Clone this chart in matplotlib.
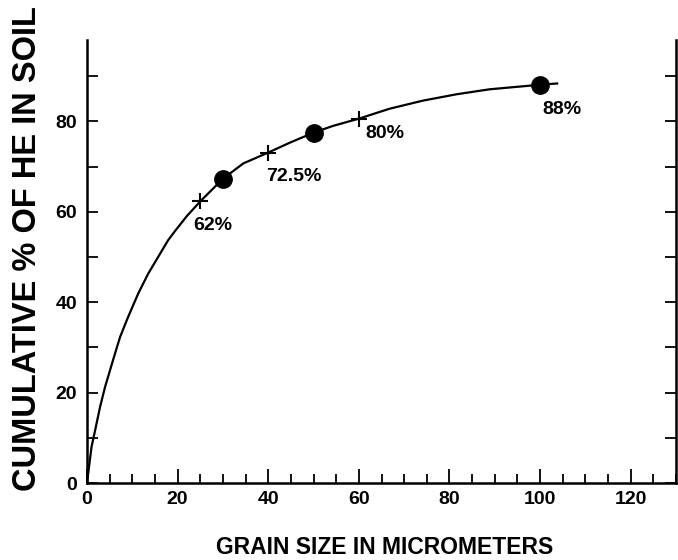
import matplotlib
matplotlib.use("Agg")
import matplotlib.pyplot as plt
from matplotlib.ticker import MultipleLocator

# ---- data ----
curve_x = [0, 1.0, 1.8, 2.9, 4.0, 5.1, 6.2, 7.3, 9.1, 11.3, 13.5, 15.7, 17.9, 19.4, 22,
           25, 30, 34.5, 40, 44.8, 50, 54.3, 60, 66.8, 74.2, 81.6, 88.9, 100, 104]
curve_y = [0, 8.0, 11.7, 16.9, 21.3, 25.0, 28.7, 32.3, 36.8, 41.9, 46.3, 50.0, 53.7, 55.7, 59.0,
           62.3, 67.3, 70.7, 73.1, 75.3, 77.5, 79.0, 80.6, 82.8, 84.6, 86.0, 87.1, 88.1, 88.4]
cross_x = [25, 40, 60]
cross_y = [62.3, 73.1, 80.6]
dot_x = [30, 50, 100]
dot_y = [67.3, 77.5, 88.1]
labels = ["62%", "72.5%", "80%", "88%"]
label_x = [25, 40, 60, 100]
label_y = [62.3, 73.1, 80.6, 88.1]
label_off = [(-5, -17.5), (-1.5, -17), (5, -10.5), (2, -17.5)]
x_ticks = [0, 20, 40, 60, 80, 100, 120]
y_ticks = [0, 20, 40, 60, 80]

FONT = ["Liberation Sans", "DejaVu Sans"]

fig = plt.figure(figsize=(6.78, 5.6), dpi=100)
ax = fig.add_axes([87 / 678, 1 - 483 / 560, (676 - 87) / 678, (483 - 40) / 560])

ax.plot(curve_x, curve_y, color="black", lw=1.6, solid_capstyle="butt",
        solid_joinstyle="round")
ax.plot(cross_x, cross_y, ls="none", marker="+", ms=12, mew=1.5, color="black")
ax.plot(dot_x, dot_y, ls="none", marker="o", ms=12.5, color="black")

for t, x, y, off in zip(labels, label_x, label_y, label_off):
    ax.annotate(t, (x, y), xytext=off, textcoords="offset points",
                ha="left", va="center", fontsize=14, fontweight="bold", family=FONT)

ax.set_xlim(0, 130)
ax.set_ylim(0, 98)
ax.spines["top"].set_visible(False)
for s in ["left", "bottom", "right"]:
    ax.spines[s].set_linewidth(1.8)

ax.set_xticks(x_ticks)
ax.xaxis.set_minor_locator(MultipleLocator(5))
ax.set_yticks(y_ticks)
ax.yaxis.set_minor_locator(MultipleLocator(10))
ax.tick_params(axis="x", which="major", direction="in", length=10, width=1.3, pad=6)
ax.tick_params(axis="x", which="minor", direction="in", length=6.5, width=1.3)
ax.tick_params(axis="y", which="both", direction="in", length=8, width=1.3, pad=7,
               right=True)
ax.set_xticklabels([str(v) for v in x_ticks], fontsize=14, fontweight="bold", family=FONT)
ax.set_yticklabels([str(v) for v in y_ticks], fontsize=14, fontweight="bold", family=FONT)

fig.text(385 / 678, 1 - 547 / 560, "GRAIN SIZE IN MICROMETERS", ha="center", va="center",
         fontsize=16.5, fontweight="bold", family=FONT)
fig.text(28 / 678, 1 - 248.5 / 560, "CUMULATIVE % OF HE IN SOIL", ha="center", va="center",
         rotation=90, fontsize=23.5, fontweight="bold", family=FONT)

fig.savefig("out.png", dpi=100)
